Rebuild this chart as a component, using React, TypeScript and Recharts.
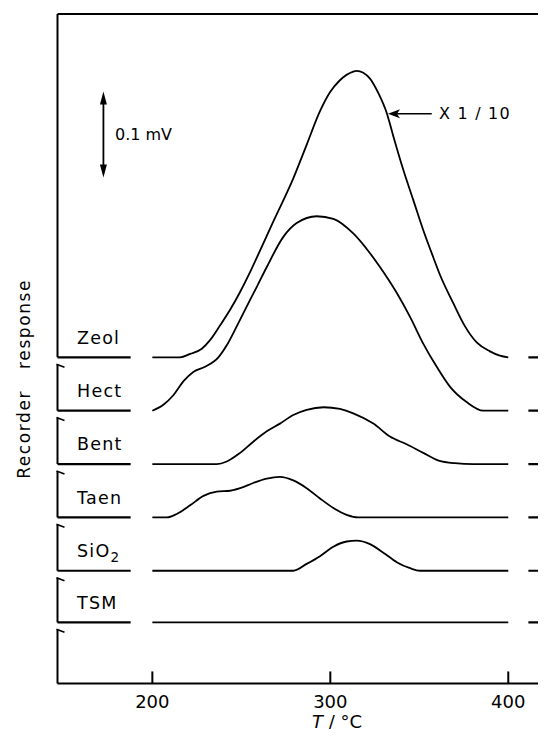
import React from 'react';
import { LineChart, Line, XAxis, YAxis, ReferenceLine, ReferenceDot, Label } from 'recharts';

const FONT = "'DejaVu Sans', sans-serif";

// temperature range (°C) and recorder response (µV; 0.1 mV bar = 100)
const tMin = 146.7;
const tMax = 444.8;
const yMax = 778;
const xTicks = [200, 300, 400];
const yTitle = 'Recorder response';
const yTitleAt = 354;

const seriesNames = ['Zeol', 'Hect', 'Bent', 'Taen', 'SiO2', 'TSM'];
const offsets = [379, 317, 255, 193, 131, 71];

const zeolT = [200, 215.6, 221.2, 227.8, 232.4, 238, 243.6, 249.3, 254.9, 259.6, 268, 279.2, 286.7, 294.2, 299.8, 305.4, 312.9, 314.8, 322.3, 327, 331.7, 335.4, 341, 346.6, 352.2, 357.9, 361.6, 369.1, 375.7, 382.4, 389.7, 395.3, 400];
const zeolV = [0, 0, 4, 10, 20, 37, 55, 76, 99, 120, 158, 208, 247, 286, 308, 322, 332, 333, 324, 307, 284, 257, 218, 183, 148, 116, 96, 63, 36, 17, 7, 2, 0];

const hectT = [200, 206.2, 211.8, 217.4, 223, 229.6, 237.1, 241.8, 247.4, 253, 258.7, 264.3, 273.6, 281.1, 292.4, 301.7, 312.9, 322.3, 327.9, 337.3, 344.8, 352.2, 359.8, 367.2, 376.6, 386, 400];
const hectV = [0, 7, 18, 34, 45, 51, 62, 76, 98, 121, 144, 167, 202, 218, 226, 223, 206, 183, 167, 137, 109, 78, 51, 28, 10, 0, 0];

const bentT = [200, 236.2, 241.8, 249.3, 256.7, 264.3, 271.7, 279.2, 286.7, 296.3, 305.4, 312.9, 324.2, 333.5, 342.9, 352.2, 360.9, 370, 380.3, 400];
const bentV = [0, 0, 3, 13, 26, 38, 47, 57, 63, 66, 64, 59, 47, 32, 23, 13, 4, 1, 0, 0];

const taenT = [200, 208.1, 213.7, 221.2, 228.7, 236.2, 243.7, 249.3, 256.7, 264.3, 271.7, 279.2, 286.7, 294.2, 301.7, 309.2, 315.7, 400];
const taenV = [0, 0, 4, 14, 25, 30, 31, 34, 40, 45, 47, 43, 34, 22, 11, 3, 0, 0];

const sio2T = [200, 279.2, 286.7, 294.2, 301.7, 309.2, 314.8, 322.3, 329.8, 337.3, 344.8, 350.4, 400];
const sio2V = [0, 0, 8, 17, 28, 34, 35, 31, 21, 10, 3, 0, 0];

const tsmT = [200, 400];
const tsmV = [0, 0];

const seriesT = [zeolT, hectT, bentT, taenT, sio2T, tsmT];
const seriesV = [zeolV, hectV, bentV, taenV, sio2V, tsmV];

// baseline stubs outside the recorded range
const leftStub = [tMin, 187.8];
const rightStub = [411.3, tMax];
const axisGap = 8;
const labelT = 157.7;
const labelLift = 16;

// scale bar (0.1 mV) and "X 1/10" annotation
const barT = 172.5;
const barTop = 688;
const barSize = 100;
const barTextT = 179;
const noteY = 662;
const noteArrow = [332.4, 357];
const noteTextT = 361.1;

const build = (ts: number[], vs: number[], off: number) => ts.map((t, i) => ({ T: t, v: off + vs[i] }));

const textStyle = { fontFamily: FONT, fontSize: 17.5, fill: '#000', letterSpacing: 1.2 } as const;

const seriesLabel = (name: string) => (p: any) => {
  if (name === 'SiO2') {
    return (
      <text x={p.cx} y={p.cy} {...textStyle}>
        SiO<tspan fontSize={13.5} dy={5}>2</tspan>
      </text>
    );
  }
  return (
    <text x={p.cx} y={p.cy} {...textStyle}>
      {name}
    </text>
  );
};

const upHead = (p: any) => (
  <polygon points={`${p.cx},${p.cy} ${p.cx - 3.5},${p.cy + 13} ${p.cx + 3.5},${p.cy + 13}`} fill="#000" />
);
const downHead = (p: any) => (
  <polygon points={`${p.cx},${p.cy} ${p.cx - 3.5},${p.cy - 13} ${p.cx + 3.5},${p.cy - 13}`} fill="#000" />
);
const leftHead = (p: any) => (
  <polygon points={`${p.cx},${p.cy} ${p.cx + 12},${p.cy - 4.5} ${p.cx + 9},${p.cy} ${p.cx + 12},${p.cy + 4.5}`} fill="#000" />
);
const barText = (p: any) => (
  <text x={p.cx} y={p.cy} dominantBaseline="central" fontFamily={FONT} fontSize={16} fill="#000">
    0.1 mV
  </text>
);
const noteText = (p: any) => (
  <text x={p.cx} y={p.cy} dominantBaseline="central" fontFamily={FONT} fontSize={16} fill="#000" letterSpacing={1.2}>
    X 1 / 10
  </text>
);
const breakMark = (p: any) => (
  <line x1={p.cx - 1} y1={p.cy} x2={p.cx + 7} y2={p.cy + 3} stroke="#000" strokeWidth={1.6} />
);
const yTitleShape = (p: any) => {
  const x = p.cx - 33.5;
  return (
    <text
      x={x}
      y={p.cy}
      transform={`rotate(-90 ${x} ${p.cy})`}
      textAnchor="middle"
      dominantBaseline="central"
      fontFamily={FONT}
      fontSize={17}
      letterSpacing={1.6}
      wordSpacing={14}
      fill="#000"
    >
      {yTitle}
    </text>
  );
};

const xLabel = (props: any) => {
  const vb = props.viewBox;
  return (
    <text x={vb.x + vb.width * 0.527} y={vb.y + vb.height - 1} textAnchor="middle" fontFamily={FONT} fontSize={18} fill="#000">
      <tspan fontStyle="italic">T</tspan> / °C
    </text>
  );
};

export default function App() {
  const axisTops = offsets.map((o, i) => (i === 0 ? yMax : offsets[i - 1] - axisGap));
  const axisBottoms = offsets.slice();
  axisTops.push(offsets[offsets.length - 1] - axisGap);
  axisBottoms.push(0);

  return (
    <div style={{ width: 538, height: 729, overflow: 'hidden', marginBottom: -8, background: '#fff' }}>
      <LineChart width={580} height={729} margin={{ top: 6, right: 0, left: 49.5, bottom: 8.5 }}>
        <XAxis
          type="number"
          dataKey="T"
          domain={[tMin, tMax]}
          ticks={xTicks}
          allowDataOverflow
          height={45}
          axisLine={{ stroke: '#000', strokeWidth: 2 }}
          tickLine={false}
          tickSize={0}
          tickMargin={12}
          tick={{ fontFamily: FONT, fontSize: 18, fill: '#000' }}
        >
          <Label content={xLabel} />
        </XAxis>
        <YAxis type="number" domain={[0, yMax]} hide allowDataOverflow />

        <ReferenceLine y={yMax} stroke="#000" strokeWidth={2} />

        {xTicks.map((t) => (
          <ReferenceLine key={'tick' + t} segment={[{ x: t, y: 0 }, { x: t, y: 14 }]} stroke="#000" strokeWidth={2} />
        ))}

        {axisTops.map((top, i) => (
          <ReferenceLine
            key={'ax' + i}
            segment={[{ x: tMin, y: top }, { x: tMin, y: axisBottoms[i] }]}
            stroke="#000"
            strokeWidth={2}
          />
        ))}
        {axisTops.slice(1).map((top, i) => (
          <ReferenceDot key={'brk' + i} x={tMin} y={top} r={0} shape={breakMark} />
        ))}

        {offsets.map((o, i) => (
          <ReferenceLine
            key={'ls' + i}
            segment={[{ x: leftStub[0], y: o }, { x: leftStub[1], y: o }]}
            stroke="#000"
            strokeWidth={2.2}
          />
        ))}
        {offsets.map((o, i) => (
          <ReferenceLine
            key={'rs' + i}
            segment={[{ x: rightStub[0], y: o }, { x: rightStub[1], y: o }]}
            stroke="#000"
            strokeWidth={2.2}
          />
        ))}

        {seriesNames.map((name, i) => (
          <Line
            key={name}
            data={build(seriesT[i], seriesV[i], offsets[i])}
            dataKey="v"
            type="monotone"
            stroke="#000"
            strokeWidth={1.8}
            dot={false}
            isAnimationActive={false}
          />
        ))}

        {seriesNames.map((name, i) => (
          <ReferenceDot key={'lab' + name} x={labelT} y={offsets[i] + labelLift} r={0} shape={seriesLabel(name)} />
        ))}

        <ReferenceDot x={tMin} y={yTitleAt} r={0} shape={yTitleShape} />

        <ReferenceLine segment={[{ x: barT, y: barTop - 6 }, { x: barT, y: barTop - barSize + 6 }]} stroke="#000" strokeWidth={1.8} />
        <ReferenceDot x={barT} y={barTop} r={0} shape={upHead} />
        <ReferenceDot x={barT} y={barTop - barSize} r={0} shape={downHead} />
        <ReferenceDot x={barTextT} y={barTop - barSize / 2} r={0} shape={barText} />

        <ReferenceLine segment={[{ x: noteArrow[0] + 3, y: noteY }, { x: noteArrow[1], y: noteY }]} stroke="#000" strokeWidth={1.6} />
        <ReferenceDot x={noteArrow[0]} y={noteY} r={0} shape={leftHead} />
        <ReferenceDot x={noteTextT} y={noteY} r={0} shape={noteText} />
      </LineChart>
    </div>
  );
}
